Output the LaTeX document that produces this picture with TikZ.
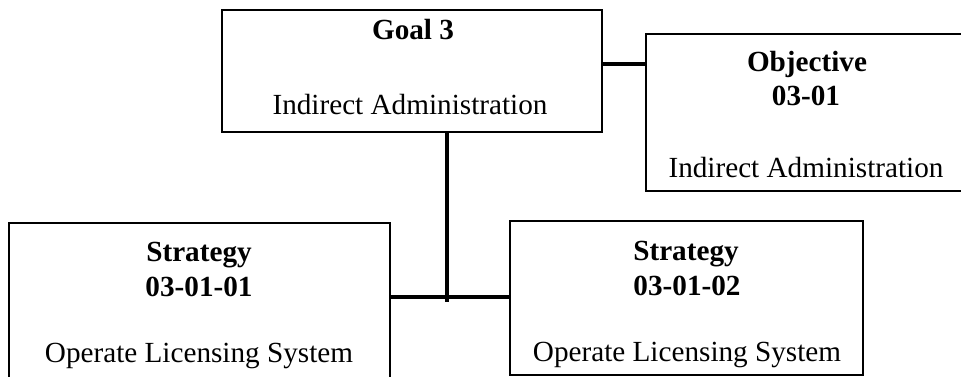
\documentclass[tikz,border=0pt]{standalone}
\usepackage{fontspec}
\setmainfont{Liberation Serif}
\usepackage{tikz}
\tikzset{box/.style={draw, line width=1.8pt, inner sep=0pt}, link/.style={line width=3.8pt}}

\begin{document}
\begin{tikzpicture}[x=1pt, y=-1pt, txt/.style={anchor=base, inner sep=0pt, font=\fontsize{29.2}{35}\selectfont}]
\useasboundingbox (0,0) rectangle (961,377);
\node[box, minimum width=380pt, minimum height=122pt] (goal) at (412,71) {};
\node[box, minimum width=316pt, minimum height=157pt] (obj) at (804,112.5) {};
\node[box, minimum width=381pt, minimum height=177pt] (s1) at (199.5,311.5) {};
\node[box, minimum width=353pt, minimum height=154pt] (s2) at (686.5,298) {};
\node[txt] (goalt) at (413,40) {\textbf{Goal 3}};
\node[txt] (goald) at (410,115) {Indirect Administration};
\node[txt] (objt) at (807,72) {\textbf{Objective}};
\node[txt] (objn) at (806,106) {\textbf{03-01}};
\node[txt] (objd) at (806,177) {Indirect Administration};
\node[txt] (s1t) at (199,261) {\textbf{Strategy}};
\node[txt] (s1n) at (199,296) {\textbf{03-01-01}};
\node[txt] (s1d) at (199,362) {Operate Licensing System};
\node[txt] (s2t) at (686,260) {\textbf{Strategy}};
\node[txt] (s2n) at (687,295) {\textbf{03-01-02}};
\node[txt] (s2d) at (687,361) {Operate Licensing System};
\coordinate (joint) at (447,297);
\draw[link] ([yshift=7pt]goal.east) -- ([yshift=7pt]goal.east -| obj.west);
\draw[link] (goal.south -| joint) -- ([yshift=-5pt]joint);
\draw[link] (s1.east |- joint) -- (s2.west |- joint);
\end{tikzpicture}
\end{document}
